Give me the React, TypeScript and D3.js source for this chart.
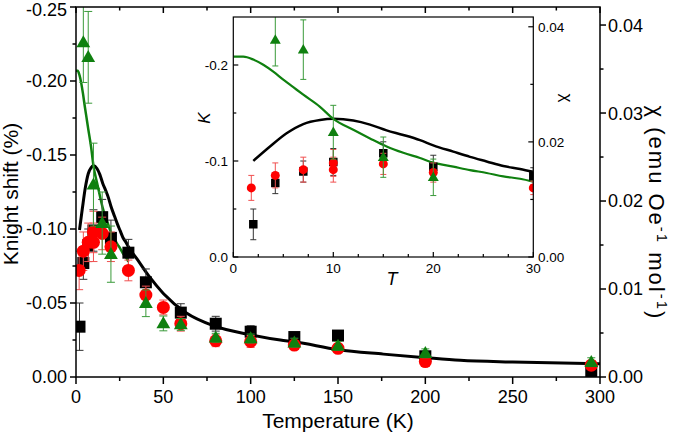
import React from "react";
import * as d3 from "d3";

// ---------------- data ----------------
// Knight shift (%) data, black squares
const blackT = [2, 4.2, 7, 10, 15, 20, 30, 40, 60, 80, 100, 125, 150, 200, 295];
const blackK = [-0.034, -0.077, -0.089, -0.099, -0.108, -0.094, -0.084, -0.064, -0.0435, -0.036, -0.0306, -0.027, -0.028, -0.014, -0.003];
const blackErr = [0.016, 0.011, 0.011, 0.014, 0.012, 0.012, 0.009, 0.009, 0.006, 0.005, 0.004, 0.003, 0.003, 0.003, 0.003];

// red circles
const redT = [1.8, 4.2, 7, 10, 10, 15, 20, 30, 40, 50, 60, 80, 100, 125, 150, 200, 295];
const redK = [-0.072, -0.085, -0.091, -0.098, -0.091, -0.097, -0.088, -0.072, -0.0554, -0.047, -0.036, -0.0245, -0.024, -0.0216, -0.0194, -0.0104, -0.008];
const redErr = [0.013, 0.013, 0.013, 0.014, 0.013, 0.011, 0.01, 0.007, 0.006, 0.005, 0.005, 0.004, 0.004, 0.003, 0.003, 0.003, 0.003];

// green triangles
const greenT = [4.2, 7, 10, 15, 20, 40, 50, 60, 80, 100, 125, 150, 200, 295];
const greenK = [-0.226, -0.216, -0.13, -0.104, -0.083, -0.0498, -0.0362, -0.0355, -0.0265, -0.026, -0.0232, -0.021, -0.016, -0.01];
const greenErr = [0.027, 0.031, 0.028, 0.021, 0.019, 0.009, 0.005, 0.004, 0.003, 0.003, 0.003, 0.003, 0.003, 0.003];

// susceptibility curves (right axis)
const blackCurveT = [2, 3.67, 5.33, 7, 8.67, 10, 12, 13.67, 15.33, 17, 18.67, 20, 22, 23.67, 25.33, 27, 28.67, 30, 35, 42, 50, 63, 79, 100, 117, 125, 150, 176, 200, 220, 250, 300];
const blackCurveChi = [0.0167, 0.0192, 0.0215, 0.0231, 0.0238, 0.024, 0.0237, 0.023, 0.022, 0.0212, 0.0203, 0.0194, 0.0183, 0.0174, 0.0166, 0.0158, 0.0153, 0.0148, 0.0134, 0.0114, 0.0095, 0.0073, 0.0058, 0.0048, 0.0042, 0.004, 0.0031, 0.0026, 0.0022, 0.0019, 0.0017, 0.0015];

const greenCurveT = [0, 1, 2, 3, 4, 5, 6, 7, 8.67, 10, 12, 13.67, 15.33, 17, 18.67, 20, 22, 23.67, 25.33, 27, 28.67, 30];
const greenCurveChi = [0.0348, 0.0348, 0.0343, 0.0334, 0.0322, 0.0308, 0.0295, 0.0282, 0.0261, 0.024, 0.0221, 0.0206, 0.0192, 0.0181, 0.0172, 0.0164, 0.0157, 0.0151, 0.0146, 0.014, 0.0136, 0.0131];

// ticks
const mainXMajor = [0, 50, 100, 150, 200, 250, 300];
const mainXMinor = [25, 75, 125, 175, 225, 275];
const mainKMajor = [0, -0.05, -0.1, -0.15, -0.2, -0.25];
const mainKMinor = [-0.025, -0.075, -0.125, -0.175, -0.225];
const mainChiMajor = [0, 0.01, 0.02, 0.03, 0.04];
const mainChiMinor = [0.005, 0.015, 0.025, 0.035];
const insetXMajor = [0, 10, 20, 30];
const insetXMinor = [2.5, 5, 7.5, 12.5, 15, 17.5, 22.5, 25, 27.5];
const insetKMajor = [0, -0.1, -0.2];
const insetKMinor = [-0.05, -0.15];
const insetChiMajor = [0, 0.02, 0.04];
const insetChiMinor = [0.01, 0.03];

// ---------------- styles ----------------
const FONT = "'Liberation Sans', Arial, Helvetica, sans-serif";
const GREEN = "#0f800f";
const RED = "#ff0000";
const BLACK = "#000000";

const M = { left: 76, right: 600, top: 7, bottom: 377 };
const I = { left: 233.3, right: 533.3, top: 17, bottom: 257 };

const xMain = d3.scaleLinear().domain([0, 300]).range([M.left, M.right]);
const kMain = d3.scaleLinear().domain([0, -0.25]).range([M.bottom, M.top]);
const chiMain = d3.scaleLinear().domain([0, 0.04205]).range([M.bottom, M.top]);

const xIn = d3.scaleLinear().domain([0, 30]).range([I.left, I.right]);
const kIn = d3.scaleLinear().domain([0, -0.25]).range([I.bottom, I.top]);
const chiIn = d3.scaleLinear().domain([0, 0.0417]).range([I.bottom, I.top]);

const fmtNeg = (d: number, p: number) => (d === 0 ? (0).toFixed(p) : "-" + Math.abs(d).toFixed(p));

function markerPath(kind: string, s: number) {
  if (kind === "square") return `M${-s / 2},${-s / 2}h${s}v${s}h${-s}Z`;
  if (kind === "triangle") {
    const w = s * 1.15;
    const h = s;
    return `M0,${-h * 0.6}L${w / 2},${h * 0.4}L${-w / 2},${h * 0.4}Z`;
  }
  const r = s / 2;
  return `M${r},0A${r},${r} 0 1,1 ${-r},0A${r},${r} 0 1,1 ${r},0Z`;
}

type SeriesProps = {
  T: number[];
  K: number[];
  E: number[];
  x: d3.ScaleLinear<number, number>;
  y: d3.ScaleLinear<number, number>;
  kind: string;
  size: number;
  color: string;
  errColor: string;
  cap: number;
  sw: number;
};

function Series({ T, K, E, x, y, kind, size, color, errColor, cap, sw }: SeriesProps) {
  return (
    <g>
      {T.map((t, i) => {
        const cx = x(t);
        const y1 = y(K[i] - E[i]);
        const y2 = y(K[i] + E[i]);
        return (
          <g key={"e" + i} stroke={errColor} strokeWidth={sw} fill="none">
            <line x1={cx} x2={cx} y1={y1} y2={y2} />
            <line x1={cx - cap / 2} x2={cx + cap / 2} y1={y1} y2={y1} />
            <line x1={cx - cap / 2} x2={cx + cap / 2} y1={y2} y2={y2} />
          </g>
        );
      })}
      {T.map((t, i) => (
        <path key={"m" + i} d={markerPath(kind, size)} transform={`translate(${x(t)},${y(K[i])})`} fill={color} />
      ))}
    </g>
  );
}

function curve(Ts: number[], Cs: number[], x: d3.ScaleLinear<number, number>, y: d3.ScaleLinear<number, number>) {
  const pts: [number, number][] = Ts.map((t, i) => [x(t), y(Cs[i])]);
  return d3.line().curve(d3.curveMonotoneX)(pts) || "";
}

export default function App() {
  const tickFont = 18;
  const inFont = 13.5;
  return (
    <svg
      width={675}
      height={443}
      viewBox="0 0 675 443"
      style={{ position: "absolute", left: 0, top: 0, display: "block", background: "#fff" }}
      fontFamily={FONT}
    >
      <defs>
        <clipPath id="mainClip">
          <rect x={M.left} y={M.top} width={M.right - M.left} height={M.bottom - M.top} />
        </clipPath>
        <clipPath id="inClip">
          <rect x={I.left} y={I.top} width={I.right - I.left} height={I.bottom - I.top} />
        </clipPath>
      </defs>
      <rect x={0} y={0} width={675} height={443} fill="#fff" />

      {/* ---------- main plot data ---------- */}
      <g clipPath="url(#mainClip)">
        <path d={curve(blackCurveT, blackCurveChi, xMain, chiMain)} fill="none" stroke={BLACK} strokeWidth={3} />
        <path d={curve(greenCurveT, greenCurveChi, xMain, chiMain)} fill="none" stroke={GREEN} strokeWidth={2.5} />
        <Series T={blackT} K={blackK} E={blackErr} x={xMain} y={kMain} kind="square" size={12} color={BLACK} errColor="#333" cap={8} sw={1} />
        <Series T={redT} K={redK} E={redErr} x={xMain} y={kMain} kind="circle" size={13} color={RED} errColor="#f05050" cap={8} sw={1} />
        <Series T={greenT} K={greenK} E={greenErr} x={xMain} y={kMain} kind="triangle" size={12} color={GREEN} errColor="#3a9a3a" cap={8} sw={1} />
      </g>

      {/* ---------- main axes ---------- */}
      <rect x={M.left} y={M.top} width={M.right - M.left} height={M.bottom - M.top} fill="none" stroke="#000" strokeWidth={1.5} />
      {mainXMajor.map((t) => (
        <g key={"bx" + t}>
          <line x1={xMain(t)} x2={xMain(t)} y1={M.bottom} y2={M.bottom + 7} stroke="#000" strokeWidth={1.5} />
          <line x1={xMain(t)} x2={xMain(t)} y1={M.top} y2={M.top + 6} stroke="#000" strokeWidth={1.5} />
          <text x={xMain(t)} y={403} textAnchor="middle" fontSize={tickFont}>
            {String(t)}
          </text>
        </g>
      ))}
      {mainXMinor.map((t) => (
        <g key={"bxm" + t}>
          <line x1={xMain(t)} x2={xMain(t)} y1={M.bottom} y2={M.bottom + 4} stroke="#000" strokeWidth={1.5} />
          <line x1={xMain(t)} x2={xMain(t)} y1={M.top} y2={M.top + 3.5} stroke="#000" strokeWidth={1.5} />
        </g>
      ))}
      {mainKMajor.map((k) => (
        <g key={"lk" + k}>
          <line x1={M.left - 6} x2={M.left} y1={kMain(k)} y2={kMain(k)} stroke="#000" strokeWidth={1.5} />
          <text x={67} y={kMain(k) + (k === -0.25 ? 3 : 0)} dy="0.36em" textAnchor="end" fontSize={tickFont}>
            {fmtNeg(k, 2)}
          </text>
        </g>
      ))}
      {mainKMinor.map((k) => (
        <line key={"lkm" + k} x1={M.left - 3.5} x2={M.left} y1={kMain(k)} y2={kMain(k)} stroke="#000" strokeWidth={1.5} />
      ))}
      {mainChiMajor.map((c) => (
        <g key={"rc" + c}>
          <line x1={M.right} x2={M.right + 6} y1={chiMain(c)} y2={chiMain(c)} stroke="#000" strokeWidth={1.5} />
          <text x={608} y={chiMain(c)} dy="0.36em" textAnchor="start" fontSize={tickFont}>
            {c.toFixed(2)}
          </text>
        </g>
      ))}
      {mainChiMinor.map((c) => (
        <line key={"rcm" + c} x1={M.right} x2={M.right + 3.5} y1={chiMain(c)} y2={chiMain(c)} stroke="#000" strokeWidth={1.5} />
      ))}

      {/* axis titles */}
      <text x={(M.left + M.right) / 2} y={428} textAnchor="middle" fontSize={21}>
        Temperature (K)
      </text>
      <text transform={`translate(18,194) rotate(-90)`} textAnchor="middle" fontSize={21}>
        Knight shift (%)
      </text>
      <text transform={`translate(649,213) rotate(90)`} textAnchor="middle" fontSize={22} letterSpacing={2}>
        χ (emu Oe
        <tspan dy={-8} fontSize={15}>
          -1
        </tspan>
        <tspan dy={8}> mol</tspan>
        <tspan dy={-8} fontSize={15}>
          -1
        </tspan>
        <tspan dy={8}>)</tspan>
      </text>

      {/* ---------- inset ---------- */}
      <rect x={I.left} y={I.top} width={I.right - I.left} height={I.bottom - I.top} fill="#fff" />
      <g clipPath="url(#inClip)">
        <path d={curve(blackCurveT.filter((t) => t <= 31), blackCurveChi.filter((_, i) => blackCurveT[i] <= 31), xIn, chiIn)} fill="none" stroke={BLACK} strokeWidth={2.5} />
        <path d={curve(greenCurveT, greenCurveChi, xIn, chiIn)} fill="none" stroke={GREEN} strokeWidth={2.2} />
        <Series T={blackT} K={blackK} E={blackErr} x={xIn} y={kIn} kind="square" size={8.5} color={BLACK} errColor="#333" cap={6} sw={1} />
        <Series T={redT} K={redK} E={redErr} x={xIn} y={kIn} kind="circle" size={9} color={RED} errColor="#f05050" cap={6} sw={1} />
        <Series T={greenT} K={greenK} E={greenErr} x={xIn} y={kIn} kind="triangle" size={9.5} color={GREEN} errColor="#3a9a3a" cap={6} sw={1} />
      </g>
      <rect x={I.left} y={I.top} width={I.right - I.left} height={I.bottom - I.top} fill="none" stroke="#000" strokeWidth={1.2} />
      {insetXMajor.map((t) => (
        <g key={"ix" + t}>
          <line x1={xIn(t)} x2={xIn(t)} y1={I.bottom} y2={I.bottom - 5} stroke="#000" strokeWidth={1.2} />
          <text x={xIn(t)} y={273} textAnchor="middle" fontSize={inFont}>
            {String(t)}
          </text>
        </g>
      ))}
      {insetXMinor.map((t) => (
        <line key={"ixm" + t} x1={xIn(t)} x2={xIn(t)} y1={I.bottom} y2={I.bottom - 3} stroke="#000" strokeWidth={1.2} />
      ))}
      {insetKMajor.map((k) => (
        <g key={"ik" + k}>
          <line x1={I.left} x2={I.left + 5} y1={kIn(k)} y2={kIn(k)} stroke="#000" strokeWidth={1.2} />
          <text x={228} y={kIn(k)} dy="0.35em" textAnchor="end" fontSize={inFont}>
            {fmtNeg(k, 1)}
          </text>
        </g>
      ))}
      {insetKMinor.map((k) => (
        <line key={"ikm" + k} x1={I.left} x2={I.left + 3} y1={kIn(k)} y2={kIn(k)} stroke="#000" strokeWidth={1.2} />
      ))}
      {insetChiMajor.map((c) => (
        <g key={"ic" + c}>
          <line x1={I.right} x2={I.right - 5} y1={chiIn(c)} y2={chiIn(c)} stroke="#000" strokeWidth={1.2} />
          <text x={538} y={chiIn(c)} dy="0.35em" textAnchor="start" fontSize={inFont}>
            {c.toFixed(2)}
          </text>
        </g>
      ))}
      {insetChiMinor.map((c) => (
        <line key={"icm" + c} x1={I.right} x2={I.right - 3} y1={chiIn(c)} y2={chiIn(c)} stroke="#000" strokeWidth={1.2} />
      ))}
      <text x={392} y={285} textAnchor="middle" fontSize={18} fontStyle="italic">
        T
      </text>
      <text transform={`translate(210,118) rotate(-90)`} textAnchor="middle" fontSize={17} fontStyle="italic">
        K
      </text>
      <text transform={`translate(561,98) rotate(90)`} textAnchor="middle" fontSize={17}>
        χ
      </text>
    </svg>
  );
}
